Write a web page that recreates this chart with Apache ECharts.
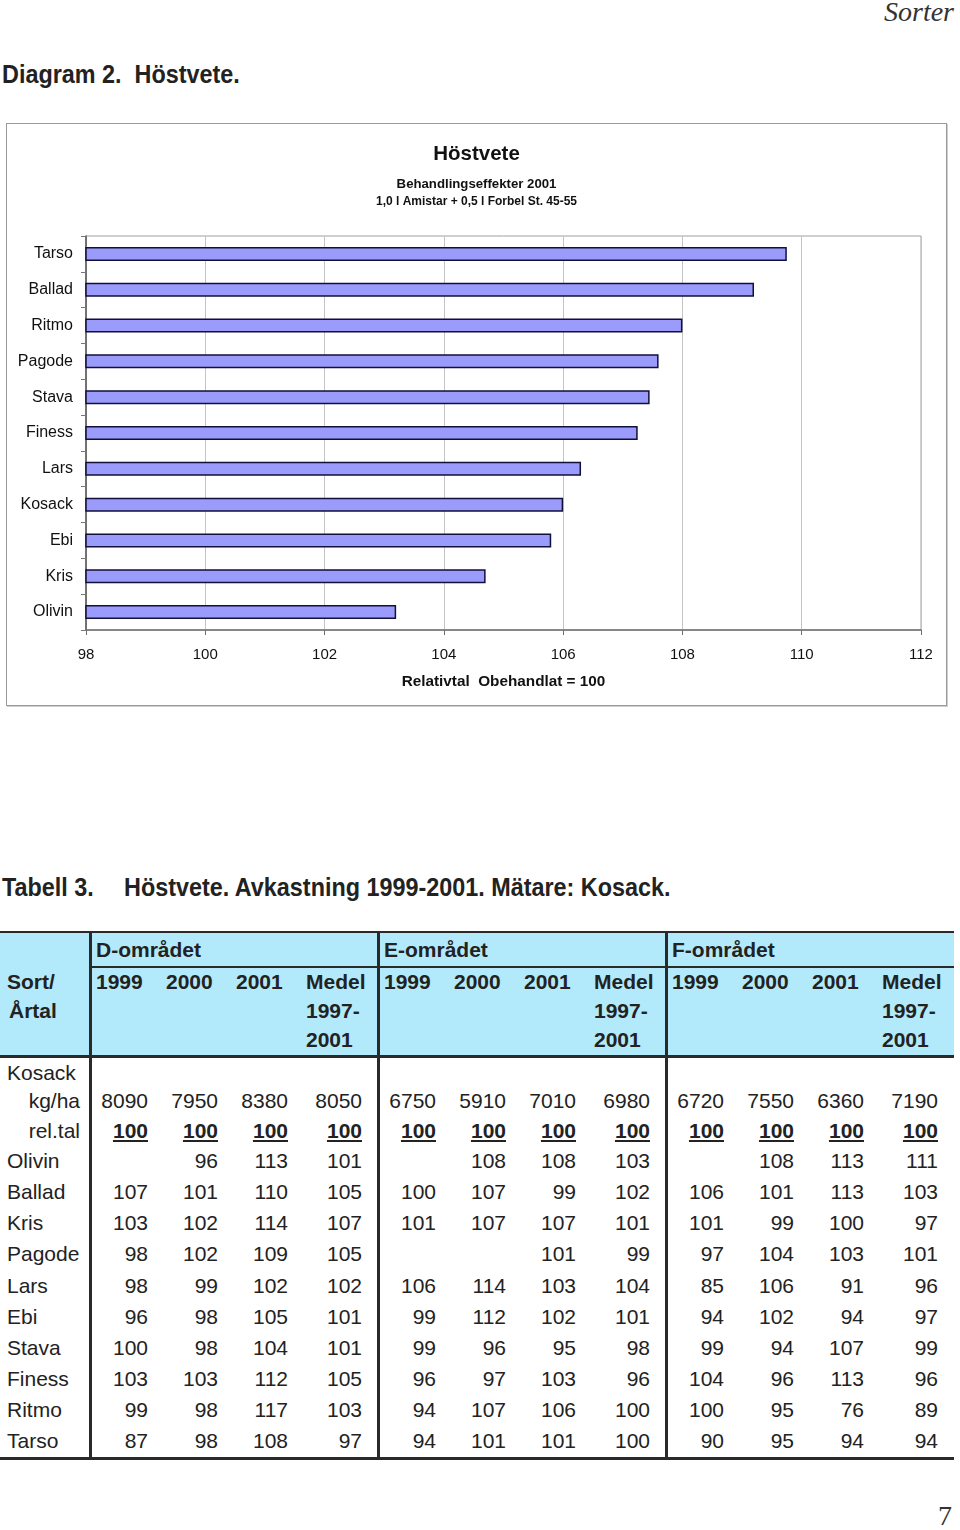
<!DOCTYPE html>
<html>
<head>
<meta charset="utf-8">
<script src="https://cdn.jsdelivr.net/npm/echarts@6/dist/echarts.min.js"></script>
<style>
  html, body { margin: 0; padding: 0; background: #fff; }
  body { width: 960px; height: 1530px; position: relative; overflow: hidden; font-family: "Liberation Sans", Arial, sans-serif; color: #222; }
  .abs { position: absolute; white-space: pre; }
  .narrow { font-family: 'Liberation Sans Narrow','Liberation Sans',Arial,sans-serif; font-weight: bold; font-size: 25px; color: #222; transform: scaleX(0.935); transform-origin: 0 0; }
  #chart { position: absolute; left: 6px; top: 123px; width: 939px; height: 581px; border: 1px solid #9a9a9a; box-shadow: 1px 1px 0 #cfcfcf; }
  .hdr { font-weight: bold; }
  .cell { position: absolute; font-size: 21px; height: 28px; line-height: 28px; white-space: pre; }
  .line { position: absolute; background: #2a2a2a; }
</style>
</head>
<body>
<div class="abs" style="left:884px; top:-4px; font-family:'Liberation Serif','DejaVu Serif',serif; font-style:italic; font-size:28px; color:#333;">Sorter</div>
<div class="abs narrow" style="left:2px; top:60px;">Diagram 2.  Höstvete.</div>
<div id="chart"></div>
<div class="abs narrow" style="left:2px; top:873px;">Tabell 3.</div>
<div class="abs narrow" style="left:124px; top:873px;">Höstvete. Avkastning 1999-2001. Mätare: Kosack.</div>
<div id="table"></div>
<div class="abs" style="left:938px; top:1500px; font-family:'Liberation Serif','DejaVu Serif',serif; font-size:28px; color:#333;">7</div>
<script>
// ---------- chart data ----------
var categories = ["Tarso", "Ballad", "Ritmo", "Pagode", "Stava", "Finess", "Lars", "Kosack", "Ebi", "Kris", "Olivin"];
var relValues = [109.75, 109.2, 108.0, 107.6, 107.45, 107.25, 106.3, 106.0, 105.8, 104.7, 103.2];
var chartTitle = "Höstvete";
var chartSub1 = "Behandlingseffekter 2001";
var chartSub2 = "1,0 l Amistar + 0,5 l Forbel St. 45-55";
var xAxisName = "Relativtal  Obehandlat = 100";

// ---------- table data ----------
var areas = ["D-området", "E-området", "F-området"];
var colHeads = ["1999", "2000", "2001", "Medel\n1997-\n2001"];
var kosackKg = [8090, 7950, 8380, 8050, 6750, 5910, 7010, 6980, 6720, 7550, 6360, 7190];
var kosackRel = [100, 100, 100, 100, 100, 100, 100, 100, 100, 100, 100, 100];
var sorts = ["Olivin", "Ballad", "Kris", "Pagode", "Lars", "Ebi", "Stava", "Finess", "Ritmo", "Tarso"];
var sortValues = [
  [null, 96, 113, 101, null, 108, 108, 103, null, 108, 113, 111],
  [107, 101, 110, 105, 100, 107, 99, 102, 106, 101, 113, 103],
  [103, 102, 114, 107, 101, 107, 107, 101, 101, 99, 100, 97],
  [98, 102, 109, 105, null, null, 101, 99, 97, 104, 103, 101],
  [98, 99, 102, 102, 106, 114, 103, 104, 85, 106, 91, 96],
  [96, 98, 105, 101, 99, 112, 102, 101, 94, 102, 94, 97],
  [100, 98, 104, 101, 99, 96, 95, 98, 99, 94, 107, 99],
  [103, 103, 112, 105, 96, 97, 103, 96, 104, 96, 113, 96],
  [99, 98, 117, 103, 94, 107, 106, 100, 100, 95, 76, 89],
  [87, 98, 108, 97, 94, 101, 101, 100, 90, 95, 94, 94]
];

// ---------- chart ----------
var chart = echarts.init(document.getElementById('chart'), null, { renderer: 'canvas' });
var font = "Liberation Sans";
chart.setOption({
  animation: false,
  backgroundColor: '#ffffff',
  title: [
    { text: chartTitle, left: 'center', top: 15, textStyle: { fontFamily: font, fontSize: 20.5, fontWeight: 'bold', color: '#111' } },
    { text: chartSub1, left: 'center', top: 49, textStyle: { fontFamily: font, fontSize: 13.2, fontWeight: 'bold', color: '#111' } },
    { text: chartSub2, left: 'center', top: 67, textStyle: { fontFamily: font, fontSize: 12, fontWeight: 'bold', color: '#111' } }
  ],
  grid: { left: 79, right: 25, top: 112, bottom: 75, show: true, borderColor: '#a0a0a0', borderWidth: 1, backgroundColor: 'transparent' },
  xAxis: {
    type: 'value', min: 98, max: 112, interval: 2,
    name: xAxisName, nameLocation: 'middle', nameGap: 44,
    nameTextStyle: { fontFamily: font, fontSize: 15.3, fontWeight: 'bold', color: '#111' },
    axisLine: { show: true, lineStyle: { color: '#707070', width: 1.5 } },
    axisTick: { show: true, length: 5, lineStyle: { color: '#707070' } },
    axisLabel: { fontFamily: font, fontSize: 15, color: '#111', margin: 17 },
    splitLine: { show: true, lineStyle: { color: '#c4c4c4', width: 1 } }
  },
  yAxis: {
    type: 'category', data: categories, inverse: true,
    axisLine: { show: true, lineStyle: { color: '#555', width: 1.5 } },
    axisTick: { show: true, length: 5, lineStyle: { color: '#777' } },
    axisLabel: { fontFamily: font, fontSize: 16, color: '#111', margin: 13 },
    splitLine: { show: false }
  },
  series: [{
    type: 'bar', data: relValues, barWidth: 14,
    itemStyle: { color: '#9b9bfb', borderColor: '#10103a', borderWidth: 1.5 }
  }]
});

// ---------- table ----------
(function () {
  var t = document.getElementById('table');
  function add(html, left, width, center, align, cls, extra) {
    var d = document.createElement('div');
    d.className = 'cell' + (cls ? ' ' + cls : '');
    d.style.left = left + 'px';
    d.style.width = width + 'px';
    d.style.top = (center - 14) + 'px';
    d.style.textAlign = align;
    if (extra) d.style.cssText += extra;
    d.textContent = html;
    t.appendChild(d);
    return d;
  }
  function line(l, tp, w, h) {
    var d = document.createElement('div');
    d.className = 'line';
    d.style.left = l + 'px'; d.style.top = tp + 'px';
    d.style.width = w + 'px'; d.style.height = h + 'px';
    t.appendChild(d);
  }
  var bg = document.createElement('div');
  bg.style.cssText = 'position:absolute;left:0;top:932px;width:954px;height:124px;background:#b3eafb;';
  t.appendChild(bg);

  var groupLeft = [90, 378, 666];
  var colOff = [0, 70, 140, 210];
  var colW = [70, 70, 70, 78];
  var padR = [12, 12, 12, 16];

  areas.forEach(function (a, g) { add(a, groupLeft[g] + 6, 280, 950, 'left', 'hdr'); });
  var hdrLines = [982, 1011, 1040];
  areas.forEach(function (a, g) {
    colHeads.forEach(function (h, c) {
      h.split('\n').forEach(function (part, k) {
        add(part, groupLeft[g] + colOff[c] + 6, colW[c], hdrLines[k], 'left', 'hdr');
      });
    });
  });
  add('Sort/', 7, 80, 982, 'left', 'hdr');
  add('Årtal', 9, 80, 1011, 'left', 'hdr');

  function valueRow(vals, center, extraCls, extraCss) {
    vals.forEach(function (v, i) {
      if (v === null || v === undefined) return;
      var g = Math.floor(i / 4), c = i % 4;
      var left = groupLeft[g] + colOff[c];
      add(String(v), left, colW[c] - padR[c], center, 'right', extraCls, extraCss);
    });
  }
  add('Kosack', 7, 80, 1073, 'left');
  add('kg/ha', 0, 80, 1101, 'right');
  valueRow(kosackKg, 1101);
  add('rel.tal', 0, 80, 1131, 'right');
  valueRow(kosackRel, 1131, 'hdr', 'text-decoration:underline;text-underline-offset:2px;');
  var rowCenters = [1161, 1192, 1223, 1254, 1286, 1317, 1348, 1379, 1410, 1441];
  sorts.forEach(function (s, r) {
    add(s, 7, 85, rowCenters[r], 'left');
    valueRow(sortValues[r], rowCenters[r]);
  });

  line(0, 931, 954, 2);
  line(90, 966, 864, 2);
  line(0, 1055, 954, 2.5);
  line(0, 1457, 954, 2.5);
  [89, 377, 665].forEach(function (x) { line(x, 931, 2.5, 528); });
})();
</script>
</body>
</html>
